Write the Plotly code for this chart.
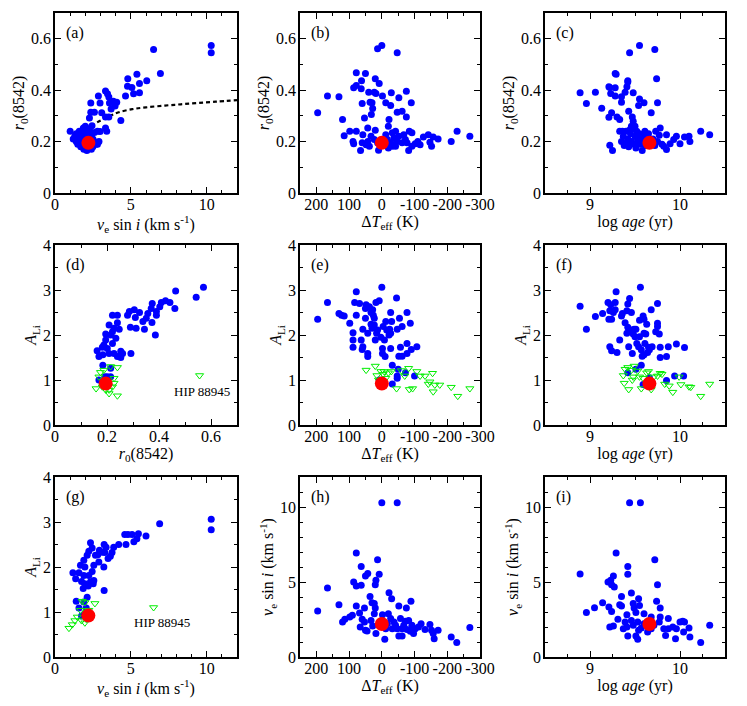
import plotly.graph_objects as go
from plotly.subplots import make_subplots

# ---- data ----
# (a) vsini vs r0(8542)
a_vsini = [1.0, 10.3, 10.3, 6.5, 6.95, 6.05, 5.4, 4.8, 4.78, 5.07, 5.57, 5.18, 5.57, 4.65, 4.34,
           3.33, 3.46, 3.55, 2.86, 2.97, 2.36, 3.59, 3.85, 4.07, 3.96, 3.7, 2.6, 3.08, 3.33, 3.55,
           2.27, 2.36, 3.33, 3.41, 2.44, 2.97, 1.87,
           1.2, 1.3, 1.4, 1.5, 1.5, 1.6, 1.7, 1.7, 1.8, 1.8, 1.9, 1.9, 2.0, 2.0, 2.0, 2.1, 2.1, 2.2,
           2.2, 2.3, 2.3, 2.4, 2.4, 2.5, 2.5, 2.6, 2.7, 2.8, 2.8, 1.6, 1.4, 1.9, 2.2, 2.6, 1.7, 2.4, 2.9]
a_r0 = [0.24, 0.574, 0.545, 0.558, 0.465, 0.437, 0.462, 0.444, 0.415, 0.41, 0.426, 0.386, 0.39, 0.377, 0.282,
        0.397, 0.386, 0.373, 0.377, 0.35, 0.35, 0.35, 0.357, 0.353, 0.338, 0.327, 0.314, 0.312, 0.296, 0.296,
        0.292, 0.314, 0.253, 0.24, 0.262, 0.239, 0.253,
        0.21, 0.22, 0.2, 0.23, 0.19, 0.21, 0.22, 0.18, 0.2, 0.24, 0.21, 0.17, 0.19, 0.23, 0.26, 0.2, 0.165, 0.18,
        0.215, 0.24, 0.2, 0.19, 0.225, 0.21, 0.18, 0.2, 0.19, 0.24, 0.19, 0.24, 0.23, 0.25, 0.25, 0.235, 0.195, 0.17, 0.2]
# dashed relation in (a)
curve_vsini = [1.2, 1.6, 2.2, 2.7, 3.2, 3.7, 4.2, 5.1, 6.0, 7.25, 8.3, 9.4, 10.6, 12.0]
curve_r0 = [0.218, 0.232, 0.255, 0.272, 0.288, 0.302, 0.314, 0.326, 0.333, 0.34, 0.345, 0.35, 0.355, 0.361]

# (b) dTeff vs r0(8542)
b_dteff = [196, 166, 131, 120, 115, 98, 88, 86, 86, 78, 78, 78, 63, 62, 60, 50, 53, 65, 58, 60, 48, 43,
           40, 36, 32, 28, 30, 23, 20, 20, 18, 13, 8, 0, -2, 10, -12, -20, -22, -29, -27, -47, -52, -62,
           -47, -75, -75, -90, -82, -212, -230, -269, -172, -152, -147, -142, -127, -157, -117, -110,
           -102, -92, -84, -72, -67, -62, -52, -42, -37, -32, -27, -20, -17, -12, -10, 23, 33, 43, 38,
           13, -42, -47, -32, -92, -77]
b_r0 = [0.312, 0.377, 0.374, 0.286, 0.223, 0.24, 0.2, 0.192, 0.409, 0.418, 0.468, 0.24, 0.405, 0.437,
        0.348, 0.465, 0.292, 0.165, 0.227, 0.195, 0.188, 0.253, 0.392, 0.353, 0.305, 0.329, 0.351, 0.392,
        0.444, 0.244, 0.387, 0.561, 0.426, 0.574, 0.377, 0.166, 0.351, 0.26, 0.286, 0.39, 0.34, 0.545,
        0.37, 0.318, 0.314, 0.396, 0.296, 0.351, 0.165, 0.2, 0.24, 0.221, 0.21, 0.182, 0.197, 0.227,
        0.218, 0.218, 0.188, 0.2, 0.192, 0.234, 0.24, 0.208, 0.227, 0.195, 0.221, 0.182, 0.214, 0.234,
        0.195, 0.175, 0.208, 0.227, 0.188, 0.208, 0.221, 0.2, 0.182, 0.195, 0.24, 0.2, 0.182, 0.182, 0.195]

# (c) log age vs r0(8542)
c_logage = [8.89, 8.96, 9.06, 9.13, 9.21, 9.22, 9.23, 9.24, 9.21, 9.28, 9.29, 9.28, 9.28, 9.3, 9.33,
            9.22, 9.25, 9.35, 9.35, 9.39, 9.41, 9.42, 9.42, 9.43, 9.44, 9.48, 9.47, 9.48, 9.46, 9.55,
            9.55, 9.54, 9.6, 9.68, 9.72, 9.74, 9.75, 9.78, 10.23, 10.33, 10.1, 10.11, 10.05, 10.0,
            9.96, 9.93, 9.89, 9.85, 9.85, 9.82,
            9.33, 9.35, 9.37, 9.38, 9.4, 9.42, 9.43, 9.45, 9.46, 9.48, 9.49, 9.5, 9.51, 9.52, 9.53,
            9.55, 9.56, 9.57, 9.58, 9.6, 9.61, 9.62, 9.64, 9.65, 9.7, 9.72, 9.73, 9.75, 9.77, 9.8,
            9.36, 9.44, 9.5, 9.41]
c_r0 = [0.39, 0.348, 0.392, 0.33, 0.413, 0.41, 0.387, 0.312, 0.295, 0.465, 0.462, 0.409, 0.377, 0.296,
        0.286, 0.186, 0.165, 0.374, 0.353, 0.392, 0.413, 0.437, 0.432, 0.318, 0.545, 0.39, 0.296, 0.279,
        0.26, 0.574, 0.366, 0.34, 0.351, 0.312, 0.558, 0.444, 0.351, 0.253, 0.24, 0.227, 0.221, 0.2,
        0.218, 0.192, 0.221, 0.208, 0.192, 0.227, 0.169, 0.182,
        0.24, 0.2, 0.22, 0.185, 0.24, 0.21, 0.18, 0.23, 0.2, 0.25, 0.19, 0.22, 0.175, 0.24, 0.205,
        0.23, 0.19, 0.21, 0.165, 0.22, 0.24, 0.185, 0.205, 0.23, 0.21, 0.185, 0.24, 0.2, 0.225, 0.19,
        0.24, 0.245, 0.26, 0.195]

# (d) r0(8542) vs A_Li
d_r0 = [0.571, 0.543, 0.464, 0.461, 0.442, 0.425, 0.409, 0.403, 0.39, 0.374, 0.37, 0.39, 0.357, 0.351,
        0.338, 0.344, 0.386, 0.373, 0.305, 0.309, 0.286, 0.279, 0.29, 0.312, 0.325, 0.292, 0.221, 0.24,
        0.227, 0.24, 0.247, 0.208, 0.195, 0.214, 0.221, 0.234, 0.195, 0.188, 0.201, 0.221, 0.227, 0.208,
        0.184, 0.169, 0.162, 0.182, 0.24, 0.253, 0.26, 0.253, 0.184, 0.169, 0.214, 0.214, 0.201, 0.192]
d_ali = [3.06, 2.84, 2.98, 2.59, 2.72, 2.76, 2.72, 2.63, 2.52, 2.7, 2.59, 2.44, 2.48, 2.37, 2.3, 2.13,
         2.0, 2.28, 2.56, 2.39, 2.52, 2.44, 2.17, 2.15, 2.5, 1.59, 2.44, 2.44, 2.15, 2.27, 2.13, 2.22,
         2.02, 2.0, 2.07, 1.93, 1.89, 1.78, 1.7, 1.81, 1.59, 1.59, 1.56, 1.52, 1.65, 1.73, 1.52, 1.5,
         1.59, 1.64, 1.33, 1.0, 1.26, 1.07, 1.07, 1.07]
d_lim_r0 = [0.158, 0.182, 0.175, 0.188, 0.214, 0.24, 0.195, 0.208, 0.221, 0.227, 0.208, 0.24, 0.227,
            0.195, 0.169, 0.556]
d_lim_ali = [0.81, 0.85, 1.17, 1.22, 1.3, 1.28, 0.78, 0.78, 0.85, 0.93, 0.7, 0.65, 1.04, 0.96, 1.07, 1.1]

# (e) dTeff vs A_Li
e_dteff = [196, 166, 131, 123, 115, 98, 88, 88, 88, 83, 78, 78, 68, 63, 60, 58, 58, 50, 50, 48, 43, 43,
           43, 38, 33, 33, 30, 28, 26, 23, 23, 20, 18, 16, 13, 8, 3, 0, -2, -2, -4, -8, -10, -12, -15,
           -22, -24, -27, -30, -27, -27, -32, -32, -45, -47, -47, -50, -52, -54, -57, -62, -62, -72,
           -77, -77, -77, -87, -90, -100, -107, -47, 8]
e_ali = [2.35, 2.72, 2.48, 2.44, 2.42, 2.26, 2.05, 1.89, 1.73, 2.72, 2.96, 2.44, 2.7, 1.89, 1.68, 1.74,
         2.13, 2.37, 2.59, 2.67, 2.04, 1.59, 1.52, 2.63, 2.5, 2.24, 2.15, 2.56, 2.44, 2.37, 2.22, 1.89,
         2.72, 2.04, 2.11, 2.76, 1.95, 3.06, 1.7, 1.59, 2.19, 1.89, 1.52, 2.3, 2.11, 2.0, 2.13, 2.5,
         2.3, 1.7, 2.04, 1.33, 0.91, 2.82, 2.13, 1.09, 1.24, 1.53, 2.37, 1.73, 1.53, 2.19, 1.16, 2.5,
         1.81, 1.59, 2.26, 1.68, 1.09, 1.74, 1.04, 1.0]
e_lim_dteff = [48, 20, 15, 3, -7, -20, -29, -12, -4, -45, -60, -70, -82, -84, -94, -107, -117, -132,
               -155, -142, -147, -157, -162, -177, -212, -232, -269, 10]
e_lim_ali = [1.22, 1.31, 1.1, 1.19, 1.19, 1.16, 1.19, 1.04, 1.13, 0.81, 1.21, 1.09, 1.26, 0.79, 0.81,
             1.19, 1.09, 1.09, 1.15, 0.91, 0.96, 0.74, 0.89, 0.89, 0.84, 0.64, 0.81, 1.0]

# (f) log age vs A_Li
f_logage = [8.89, 8.96, 9.06, 9.14, 9.2, 9.21, 9.22, 9.23, 9.24, 9.22, 9.24, 9.29, 9.28, 9.28, 9.26,
            9.3, 9.33, 9.35, 9.36, 9.41, 9.39, 9.42, 9.41, 9.42, 9.43, 9.44, 9.46, 9.46, 9.47, 9.48,
            9.49, 9.5, 9.51, 9.52, 9.54, 9.55, 9.55, 9.56, 9.57, 9.58, 9.59, 9.6, 9.6, 9.6, 9.61, 9.62,
            9.63, 9.64, 9.65, 9.66, 9.68, 9.69, 9.73, 9.75, 9.75, 9.75, 9.77, 9.78, 9.78, 9.85, 9.87,
            9.96, 10.05, 9.85, 9.94, 10.04, 9.57, 9.51, 9.42, 9.59, 9.66]
f_ali = [2.64, 2.13, 2.41, 2.48, 2.72, 2.35, 2.54, 2.67, 2.35, 1.74, 1.65, 2.96, 2.72, 2.56, 2.5, 1.61,
         1.89, 2.42, 2.48, 2.54, 2.27, 2.17, 2.04, 2.69, 1.74, 2.81, 2.5, 2.11, 1.59, 2.02, 2.13, 1.96,
         2.13, 1.81, 1.74, 1.96, 2.33, 3.06, 1.67, 1.53, 2.42, 2.35, 2.04, 1.56, 1.81, 2.02, 2.24, 1.61,
         1.73, 1.67, 2.56, 1.74, 2.07, 2.7, 2.26, 2.19, 2.02, 1.5, 1.73, 1.52, 1.74, 1.8, 1.72, 0.99,
         1.09, 1.09, 1.33, 1.24, 1.16, 0.9, 1.05]
f_lim_logage = [9.37, 9.39, 9.42, 9.38, 9.43, 9.46, 9.48, 9.47, 9.49, 9.53, 9.55, 9.57, 9.59, 9.63,
                9.65, 9.71, 9.75, 9.78, 9.8, 9.83, 9.88, 9.92, 10.01, 10.1, 10.12, 10.23, 10.33, 9.68, 9.99]
f_lim_ali = [1.1, 1.24, 1.28, 0.93, 0.79, 1.22, 1.07, 1.0, 1.31, 1.2, 1.07, 0.81, 1.04, 1.16, 1.19,
             1.07, 1.09, 1.15, 1.13, 0.91, 0.87, 0.73, 0.9, 0.85, 0.84, 0.64, 0.91, 0.79, 1.07]

# (g) vsini vs A_Li
g_vsini = [10.3, 10.3, 6.9, 6.0, 5.5, 5.4, 5.2, 5.08, 4.81, 4.6, 4.68, 4.2, 3.87, 3.76, 3.65, 3.5,
           3.24, 3.37, 3.28, 3.1, 3.22, 3.24, 2.89, 2.82, 2.93, 2.67, 2.45, 2.34, 2.23, 2.12, 1.9, 1.97,
           1.68, 1.18, 1.58, 1.9, 2.23, 2.45, 2.56, 1.36, 1.75, 1.97, 2.34, 2.56, 1.86, 2.19, 2.52, 2.12,
           1.4, 1.9, 1.58, 2.06, 1.75, 1.97]
g_ali = [3.06, 2.83, 2.96, 2.69, 2.74, 2.63, 2.56, 2.72, 2.72, 2.72, 2.5, 2.5, 2.44, 2.32, 2.24, 2.19,
         2.5, 2.44, 2.32, 2.33, 2.0, 1.48, 2.11, 2.27, 2.37, 2.26, 2.42, 2.54, 2.35, 2.26, 2.15, 2.0,
         2.04, 1.87, 1.87, 1.81, 1.81, 1.9, 2.04, 1.74, 1.68, 1.63, 1.67, 1.7, 1.52, 1.58, 1.63, 1.33,
         1.24, 1.22, 1.09, 1.09, 0.91, 0.96]
g_lim_vsini = [0.92, 1.14, 1.31, 1.47, 1.75, 1.97, 1.79, 1.97, 2.12, 2.23, 2.63, 1.68, 2.06, 6.5]
g_lim_ali = [0.64, 0.72, 0.81, 0.89, 0.81, 0.76, 1.24, 1.21, 1.0, 1.04, 1.19, 1.04, 0.84, 1.1]

# (h) dTeff vs vsini
h_dteff = [0, -47, 78, 13, 63, 43, 50, 8, 18, 20, 86, 78, 63, 166, -22, -30, 36, 131, 78, 53, 30, 23,
           20, 23, -52, -75, -89, 196, 90, 98, 113, 120, 68, 60, 53, 66, 50, 45, 18, -9, 33, 28, -2,
           -20, -27, -37, -47, -52, -62, -67, -72, -82, -92, -97, -102, -112, -120, -132, -147, -152,
           -157, -160, -172, -212, -229, -269, -77, -87, -42, -32, -12, -17, -57, -62]
h_vsini = [10.29, 10.29, 6.93, 6.49, 6.04, 5.56, 5.4, 5.51, 5.11, 4.82, 5.0, 4.73, 4.78, 4.6, 4.29,
           3.89, 4.04, 3.49, 3.4, 3.27, 3.62, 3.56, 3.27, 2.89, 3.4, 3.27, 3.71, 3.07, 2.78, 2.67, 2.51,
           2.33, 2.93, 2.51, 2.33, 2.0, 1.78, 1.73, 1.56, 1.18, 2.44, 2.07, 2.82, 2.89, 2.56, 2.33, 1.89,
           1.4, 1.4, 2.11, 2.38, 2.44, 2.11, 1.56, 1.89, 2.0, 2.22, 1.84, 2.16, 1.78, 1.56, 1.22, 1.78,
           1.33, 0.96, 1.96, 1.84, 1.71, 2.11, 1.89, 1.89, 2.22, 2.56, 1.89]

# (i) log age vs vsini
i_logage = [9.44, 9.56, 9.29, 9.72, 9.42, 9.42, 8.89, 9.26, 9.23, 9.2, 9.24, 9.27, 9.75, 9.46, 9.35,
            9.54, 9.14, 9.05, 8.96, 9.21, 9.24, 9.33, 9.35, 9.48, 9.49, 9.55, 9.74, 9.78, 9.6, 9.51,
            9.41, 9.31, 9.22, 9.26, 9.37, 9.42, 9.51, 9.53, 9.46, 9.48, 9.53, 9.57, 9.6, 9.68, 9.71,
            9.77, 9.78, 9.82, 9.84, 9.87, 9.87, 9.92, 9.95, 9.96, 10.0, 10.03, 10.05, 10.04, 10.1,
            10.11, 10.23, 10.33, 9.39, 9.41, 9.68, 9.54, 9.64]
i_vsini = [10.29, 10.29, 6.93, 6.49, 6.04, 5.51, 5.53, 5.4, 5.11, 5.0, 4.82, 4.67, 4.82, 4.27, 4.04,
           3.89, 3.62, 3.29, 2.96, 3.33, 3.04, 3.49, 3.4, 3.56, 3.27, 3.44, 3.71, 3.27, 2.89, 2.96, 2.82,
           2.51, 2.0, 2.07, 1.89, 1.4, 1.4, 1.18, 2.44, 2.11, 2.33, 1.93, 2.22, 1.89, 2.11, 2.33, 2.67,
           1.89, 1.44, 2.56, 1.89, 2.0, 1.22, 1.89, 2.33, 2.38, 2.33, 1.67, 1.93, 1.33, 0.96, 2.11, 2.33,
           2.0, 2.67, 1.78, 1.67]

# target star (red)
sun_vsini = 2.2
sun_r0 = 0.195
sun_dteff = 0
sun_logage = 9.66
sun_ali = 0.92

dteff_ticks = [200, 100, 0, -100, -200, -300]
dteff_labels = ["200", "100", "0", "-100", "-200", "-300"]

FONT = "Liberation Serif, Times New Roman, DejaVu Serif, serif"
BLUE = "#0000ff"
RED = "#ff0000"
GREEN = "#00ee00"

fig = make_subplots(rows=3, cols=3)

panels = [
    (1, 1, a_vsini, a_r0, None, None, sun_vsini, sun_r0),
    (1, 2, b_dteff, b_r0, None, None, sun_dteff, sun_r0),
    (1, 3, c_logage, c_r0, None, None, sun_logage, sun_r0),
    (2, 1, d_r0, d_ali, d_lim_r0, d_lim_ali, sun_r0, sun_ali),
    (2, 2, e_dteff, e_ali, e_lim_dteff, e_lim_ali, sun_dteff, sun_ali),
    (2, 3, f_logage, f_ali, f_lim_logage, f_lim_ali, sun_logage, sun_ali),
    (3, 1, g_vsini, g_ali, g_lim_vsini, g_lim_ali, sun_vsini, sun_ali),
    (3, 2, h_dteff, h_vsini, None, None, sun_dteff, sun_vsini),
    (3, 3, i_logage, i_vsini, None, None, sun_logage, sun_vsini),
]

for r, c, xs, ys, lx, ly, sx, sy in panels:
    if r == 1 and c == 1:
        fig.add_trace(go.Scatter(x=curve_vsini, y=curve_r0, mode="lines",
                                 line=dict(color="black", width=2.2, dash="4px,3px", shape="spline")),
                      row=r, col=c)
    fig.add_trace(go.Scatter(x=xs, y=ys, mode="markers",
                             marker=dict(color=BLUE, size=7, line=dict(width=0))), row=r, col=c)
    if lx is not None:
        fig.add_trace(go.Scatter(x=lx, y=ly, mode="markers",
                                 marker=dict(symbol="triangle-down-open", color=GREEN, size=7,
                                             line=dict(width=1, color=GREEN))), row=r, col=c)
    fig.add_trace(go.Scatter(x=[sx], y=[sy], mode="markers",
                             marker=dict(color=RED, size=14, line=dict(width=0))), row=r, col=c)

# the page body adds an 8px margin, so panel pixel positions are shifted back by 8
W, H = 747, 706
OFF = 8
col_px = [(55, 237), (300, 480), (545, 725)]
row_px = [(13, 193), (245, 425), (477, 657)]

vsini_title = "<i>v</i><sub>e</sub> sin <i>i</i> (km s<sup>-1</sup>)"
dteff_title = "Δ<i>T</i><sub>eff</sub> (K)"
age_title = "log <i>age</i> (yr)"
r0_title = "<i>r</i><sub>0</sub>(8542)"
ali_title = "<i>A</i><sub>Li</sub>"

xcfg = {
    "vsini": dict(range=[0, 12], dtick=5, tick0=0, minor=dict(dtick=1), title=vsini_title),
    "r0": dict(range=[0, 0.7], dtick=0.2, tick0=0, minor=dict(dtick=0.1), title=r0_title),
    "dteff": dict(range=[250, -300], tickvals=dteff_ticks, ticktext=dteff_labels,
                  minor=dict(dtick=50, tick0=0), title=dteff_title),
    "age": dict(range=[8.5, 10.5], dtick=1, tick0=9, minor=dict(dtick=0.25, tick0=9), title=age_title),
}
ycfg = {
    "r0": dict(range=[0, 0.7], dtick=0.2, tick0=0, minor=dict(dtick=0.1), title=r0_title),
    "ali": dict(range=[0, 4], dtick=1, tick0=0, minor=dict(dtick=0.5), title=ali_title),
    "vsini": dict(range=[0, 12], dtick=5, tick0=0, minor=dict(dtick=1), title=vsini_title),
}
grid_x = [["vsini", "dteff", "age"], ["r0", "dteff", "age"], ["vsini", "dteff", "age"]]
grid_y = [["r0", "r0", "r0"], ["ali", "ali", "ali"], ["ali", "vsini", "vsini"]]
letters = "abcdefghi"

for r in range(3):
    for c in range(3):
        k = r * 3 + c + 1
        xd = [(col_px[c][0] - OFF) / W, (col_px[c][1] - OFF) / W]
        yd = [1 - (row_px[r][1] - OFF) / H, 1 - (row_px[r][0] - OFF) / H]
        xc = dict(xcfg[grid_x[r][c]])
        yc = dict(ycfg[grid_y[r][c]])
        common = dict(showgrid=False, zeroline=False, showline=True, linecolor="black", linewidth=1.5,
                      mirror="allticks", ticks="inside", ticklen=6, tickwidth=1.2, tickcolor="black",
                      automargin=False, tickfont=dict(family=FONT, size=16, color="black"))
        xminor = dict(ticks="inside", ticklen=3, tickwidth=1, tickcolor="black", showgrid=False)
        xminor.update(xc.pop("minor"))
        yminor = dict(ticks="inside", ticklen=3, tickwidth=1, tickcolor="black", showgrid=False)
        yminor.update(yc.pop("minor"))
        xt = xc.pop("title")
        yt = yc.pop("title")
        fig.update_xaxes(domain=xd, autorange=False, minor=xminor, ticklabelstandoff=-4,
                         title=dict(text=xt, font=dict(family=FONT, size=16, color="black"), standoff=2),
                         **xc, **common, row=r + 1, col=c + 1)
        fig.update_yaxes(domain=yd, autorange=False, minor=yminor, ticklabelstandoff=-1,
                         title=dict(text=yt, font=dict(family=FONT, size=16, color="black"), standoff=2),
                         **yc, **common, row=r + 1, col=c + 1)
        xa = "x" if k == 1 else f"x{k}"
        ya = "y" if k == 1 else f"y{k}"
        fig.add_annotation(text=f"({letters[k - 1]})", xref=f"{xa} domain", yref=f"{ya} domain",
                           x=0.05, y=0.89, xanchor="left", yanchor="middle", showarrow=False,
                           font=dict(family=FONT, size=16, color="black"))

fig.add_annotation(text="HIP 88945", x=0.567, y=0.74, xref="x4", yref="y4", showarrow=False,
                   font=dict(family=FONT, size=13, color="black"))
fig.add_annotation(text="HIP 88945", x=7.05, y=0.76, xref="x7", yref="y7", showarrow=False,
                   font=dict(family=FONT, size=13, color="black"))

fig.update_layout(width=W, height=H, margin=dict(l=0, r=0, t=0, b=0, autoexpand=False),
                  showlegend=False, plot_bgcolor="white", paper_bgcolor="white",
                  font=dict(family=FONT, color="black"))

fig.write_html("out.html")
